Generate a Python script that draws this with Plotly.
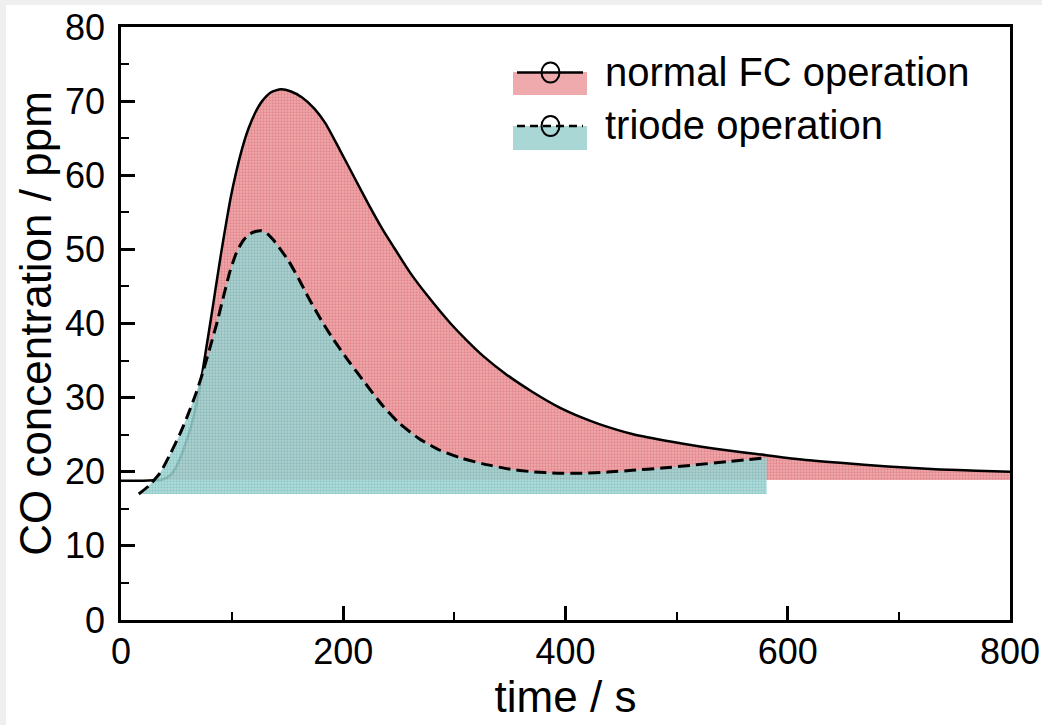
import plotly.graph_objects as go

# ---------------- data ----------------
t_normal = [0, 10, 20, 30, 35, 40, 45, 49, 54, 58, 63, 67, 72, 76, 81, 85, 90, 94, 99,
            103, 109, 115, 121, 127, 135, 144, 153, 163, 174, 184, 197, 210, 223, 235,
            245, 260, 275, 296, 310, 326, 347, 370, 393, 415, 431, 460, 497, 521, 545,
            572, 610, 647, 690, 737, 770, 800]
co_normal = [18.8, 18.8, 18.8, 18.85, 18.9, 19.1, 19.6, 20.5, 22.1, 23.8, 26.1, 28.5,
             32.3, 36.0, 40.7, 44.6, 49.4, 53.0, 57.2, 60.0, 63.6, 66.4, 68.5, 70.0, 71.2,
             71.6, 71.3, 70.5, 69.0, 67.0, 63.4, 59.7, 56.0, 52.8, 50.4, 46.9, 43.9, 40.1,
             37.9, 35.6, 33.1, 30.8, 28.8, 27.3, 26.4, 25.1, 24.0, 23.4, 22.9, 22.4, 21.7,
             21.2, 20.7, 20.3, 20.15, 20.0]

t_triode = [16, 25, 35, 44, 53, 60, 68, 74, 80, 86, 92, 98, 104, 110, 116, 122, 126, 131,
            137, 144, 151, 160, 169, 180, 190, 205, 220, 235, 250, 268, 287, 305, 325,
            348, 370, 393, 415, 438, 460, 487, 515, 548, 581]
co_triode = [17.0, 18.1, 19.8, 22.3, 25.1, 27.6, 30.8, 33.6, 36.7, 39.9, 43.5, 47.0, 49.6,
             51.2, 52.1, 52.45, 52.5, 52.2, 51.3, 49.9, 48.4, 46.0, 43.4, 40.5, 38.1, 34.9,
             31.9, 29.0, 26.6, 24.5, 22.9, 21.9, 21.1, 20.4, 20.0, 19.8, 19.8, 19.95, 20.2,
             20.5, 20.9, 21.4, 21.9]

baseline_normal = 18.9   # lower edge of the red area
baseline_triode = 17.0   # lower edge of the teal area

series_names = ["normal FC operation", "triode operation"]

x_ticks = [0, 200, 400, 600, 800]
y_ticks = [0, 10, 20, 30, 40, 50, 60, 70, 80]

FONT = "Arial, Liberation Sans, Helvetica, sans-serif"
RED_FG = "rgb(216,96,104)"
RED_BG = "rgb(238,170,173)"
TEAL_FG = "rgb(84,174,172)"
TEAL_BG = "rgb(168,215,213)"

fig = go.Figure()

# red area (normal FC operation)
fig.add_trace(go.Scatter(
    x=t_normal + t_normal[::-1],
    y=co_normal + [baseline_normal] * len(t_normal),
    mode="none", fill="toself", fillcolor=RED_BG,
    fillpattern=dict(shape=".", fgcolor=RED_FG, bgcolor=RED_BG, size=3, solidity=0.45,
                     fillmode="overlay"),
    hoverinfo="skip", showlegend=False,
))
# solid line
fig.add_trace(go.Scatter(
    x=t_normal, y=co_normal, mode="lines", name=series_names[0],
    line=dict(color="black", width=2.5, shape="spline", smoothing=0.6),
    showlegend=False,
))
# teal area (triode operation)
fig.add_trace(go.Scatter(
    x=t_triode + t_triode[::-1],
    y=co_triode + [baseline_triode] * len(t_triode),
    mode="none", fill="toself", fillcolor=TEAL_BG,
    fillpattern=dict(shape=".", fgcolor=TEAL_FG, bgcolor=TEAL_BG, size=3, solidity=0.45,
                     fillmode="overlay"),
    opacity=0.88, hoverinfo="skip", showlegend=False,
))
# dashed line
fig.add_trace(go.Scatter(
    x=t_triode, y=co_triode, mode="lines", name=series_names[1],
    line=dict(color="black", width=3, dash="12px,6px", shape="spline", smoothing=0.6),
    showlegend=False,
))

# ---------------- layout ----------------
L, R, T, B = 121, 32, 27, 105
W, H = 1042, 725
PW, PH = W - L - R, H - T - B


def px(xp):
    return (xp - L) / PW


def py(yp):
    return (T + PH - yp) / PH


shapes = []
annotations = []

# light grey frame strips (left and top edge of the picture)
shapes.append(dict(type="rect", xref="paper", yref="paper", x0=px(0), x1=px(6),
                   y0=py(H), y1=py(0), fillcolor="#efefef", line=dict(width=0), layer="below"))
shapes.append(dict(type="rect", xref="paper", yref="paper", x0=px(0), x1=px(W),
                   y0=py(5), y1=py(0), fillcolor="#efefef", line=dict(width=0), layer="below"))

# manual legend
legend_rows = [
    dict(name=series_names[0], bg=RED_BG, y_line=72.5, y_rect=(72, 95), dash="solid"),
    dict(name=series_names[1], bg=TEAL_BG, y_line=126, y_rect=(126, 150), dash="8px,5px"),
]
for row in legend_rows:
    shapes.append(dict(type="rect", xref="paper", yref="paper",
                       x0=px(513), x1=px(587), y0=py(row["y_rect"][1]), y1=py(row["y_rect"][0]),
                       fillcolor=row["bg"], line=dict(width=0)))
    shapes.append(dict(type="line", xref="paper", yref="paper",
                       x0=px(517), x1=px(583), y0=py(row["y_line"]), y1=py(row["y_line"]),
                       line=dict(color="black", width=2.5, dash=row["dash"])))
    shapes.append(dict(type="circle", xref="paper", yref="paper",
                       x0=px(541.5), x1=px(559.5), y0=py(row["y_line"] + 10), y1=py(row["y_line"] - 10),
                       line=dict(color="black", width=2)))
    annotations.append(dict(xref="paper", yref="paper", x=px(603), y=py(row["y_line"] - 1),
                            text=row["name"], showarrow=False, xanchor="left", yanchor="middle",
                            font=dict(family=FONT, size=40, color="black")))

fig.update_layout(
    width=W, height=H,
    margin=dict(l=L, r=R, t=T, b=B, autoexpand=False),
    paper_bgcolor="white", plot_bgcolor="white",
    font=dict(family=FONT, color="black"),
    shapes=shapes, annotations=annotations,
    showlegend=False,
)

axis_common = dict(
    showline=True, linecolor="black", linewidth=2.5, mirror=True,
    ticks="inside", ticklen=14, tickwidth=2.5, tickcolor="black",
    showgrid=False, zeroline=False,
    tickfont=dict(family=FONT, size=36, color="black"),
)

fig.update_xaxes(
    range=[0, 800], tickvals=x_ticks, ticktext=[str(v) for v in x_ticks],
    minor=dict(ticks="inside", ticklen=8, tickwidth=2, tickcolor="black", dtick=100, tick0=0),
    title=dict(text="time / s", font=dict(family=FONT, size=44, color="black"), standoff=4),
    ticklabelstandoff=-2,
    **axis_common,
)
fig.update_yaxes(
    range=[0, 80], tickvals=y_ticks, ticktext=[str(v) for v in y_ticks],
    minor=dict(ticks="inside", ticklen=8, tickwidth=2, tickcolor="black", dtick=5, tick0=0),
    title=dict(text="CO concentration / ppm", font=dict(family=FONT, size=44, color="black"),
               standoff=0),
    ticklabelstandoff=6,
    **axis_common,
)

fig.write_html(
    "out.html",
    config={"displayModeBar": False},
    post_script="document.body.style.margin='0px';document.body.style.overflow='hidden';",
)
